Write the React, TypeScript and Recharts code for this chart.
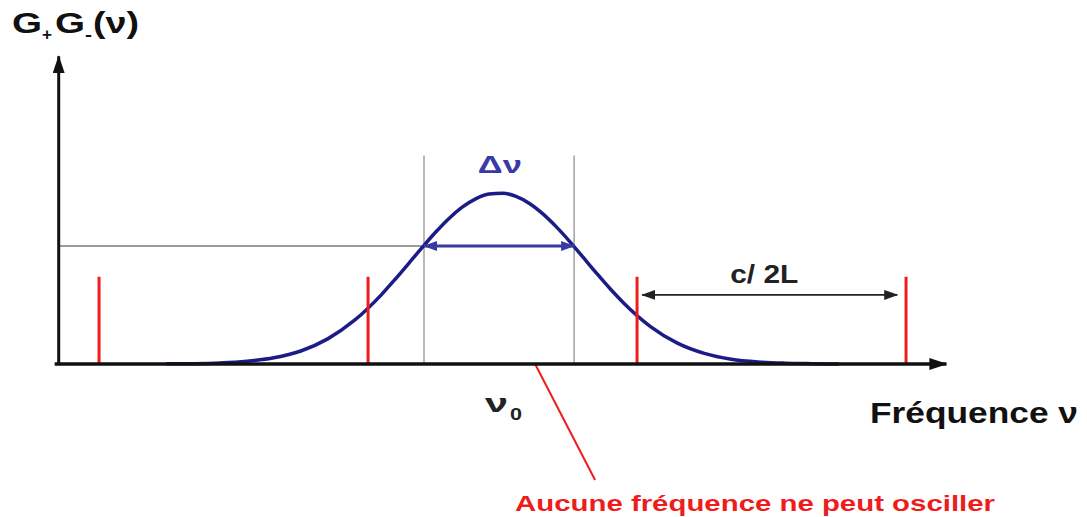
// Gain curve G+G-(ν) of a laser medium with the longitudinal cavity modes
// spaced by c/2L. Frequency axis in arbitrary units where c/2L = 10.

import {
  ComposedChart,
  Line,
  XAxis,
  YAxis,
  ReferenceLine,
  ReferenceDot,
} from 'recharts'

const nu = [
  4, 5, 6, 7, 8, 9, 10, 11, 12, 12.5, 13, 13.5, 14, 14.5, 15, 15.5, 16, 16.5, 17, 17.5, 18,
  18.5, 19, 19.5, 20, 20.5, 21, 22, 23, 24, 25, 26, 27, 28, 29,
]
const gain = [
  0.001, 0.002, 0.006, 0.016, 0.036, 0.076, 0.147, 0.256, 0.406, 0.494, 0.586, 0.679, 0.769,
  0.85, 0.917, 0.966, 0.994, 0.999, 0.98, 0.939, 0.878, 0.802, 0.716, 0.623, 0.53, 0.44,
  0.357, 0.219, 0.122, 0.062, 0.028, 0.012, 0.005, 0.002, 0,
]

// cavity modes (red) and their drawn height
const modes = [1.5, 11.5, 21.5, 31.5]
const modeHeight = 0.51

// width Δν read at the gain level
const bandEdges = [13.58, 19.16]
const bandLevel = 0.69
const bandTop = 1.22

// free spectral range arrow
const fsr = [21.69, 31.17]
const fsrLevel = 0.404

// pointer to the gap between modes
const pointer = [
  { x: 17.71, y: 0 },
  { x: 19.94, y: -0.678 },
]

const X_MAX = 33
const Y_MAX = 1.8

const data = nu.map((v, i) => ({ nu: v, g: gain[i] }))

const FONT = '"Liberation Sans", Arial, sans-serif'
const RED = '#ee1c1c'
const NAVY = '#1c1c86'
const BLUE = '#3a3aa6'

const arrow =
  (color: string, width: number, start?: string, end?: string) => (p: any) => (
    <line
      x1={p.x1}
      y1={p.y1}
      x2={p.x2}
      y2={p.y2}
      stroke={color}
      strokeWidth={width}
      markerStart={start ? `url(#${start})` : undefined}
      markerEnd={end ? `url(#${end})` : undefined}
    />
  )

export default function App() {
  return (
    <div style={{ position: 'absolute', left: 0, top: 0, background: '#fff' }}>
      <ComposedChart
        width={1087}
        height={517}
        data={data}
        margin={{ top: 56.2, right: 140.6, bottom: 153, left: 58.7 }}
      >
        <defs>
          <marker id="axisHead" viewBox="0 0 18 12" markerUnits="userSpaceOnUse" markerWidth={18} markerHeight={12} refX={17} refY={6} orient="auto-start-reverse">
            <path d="M0,0 L18,6 L0,12 z" fill="#111" />
          </marker>
          <marker id="blackHead" viewBox="0 0 14 10" markerUnits="userSpaceOnUse" markerWidth={14} markerHeight={10} refX={13} refY={5} orient="auto-start-reverse">
            <path d="M0,0 L14,5 L0,10 z" fill="#222" />
          </marker>
          <marker id="blueHead" viewBox="0 0 14 10" markerUnits="userSpaceOnUse" markerWidth={14} markerHeight={10} refX={13} refY={5} orient="auto-start-reverse">
            <path d="M0,0 L14,5 L0,10 z" fill={BLUE} />
          </marker>
        </defs>

        <XAxis type="number" dataKey="nu" domain={[0, X_MAX]} hide />
        <YAxis type="number" domain={[0, Y_MAX]} hide />

        {/* Δν construction */}
        {bandEdges.map((x) => (
          <ReferenceLine
            key={x}
            segment={[{ x, y: 0 }, { x, y: bandTop }]}
            stroke="#8a8a8a"
            strokeWidth={1.2}
            ifOverflow="visible"
          />
        ))}
        <ReferenceLine
          segment={[{ x: 0, y: bandLevel }, { x: bandEdges[0], y: bandLevel }]}
          stroke="#7a7a7a"
          strokeWidth={1.6}
          ifOverflow="visible"
        />

        <Line
          type="monotone"
          dataKey="g"
          stroke={NAVY}
          strokeWidth={3.5}
          dot={false}
          activeDot={false}
          isAnimationActive={false}
        />

        <ReferenceLine
          segment={[{ x: bandEdges[0], y: bandLevel }, { x: bandEdges[1], y: bandLevel }]}
          ifOverflow="visible"
          shape={arrow(BLUE, 3, 'blueHead', 'blueHead')}
        />

        {/* cavity modes */}
        {modes.map((x) => (
          <ReferenceLine
            key={x}
            segment={[{ x, y: 0 }, { x, y: modeHeight }]}
            stroke={RED}
            strokeWidth={3}
            ifOverflow="visible"
          />
        ))}

        <ReferenceLine
          segment={[{ x: fsr[0], y: fsrLevel }, { x: fsr[1], y: fsrLevel }]}
          ifOverflow="visible"
          shape={arrow('#222', 1.6, 'blackHead', 'blackHead')}
        />

        <ReferenceLine segment={pointer} stroke={RED} strokeWidth={2} ifOverflow="visible" />

        {/* axes */}
        <ReferenceLine
          segment={[{ x: -0.15, y: 0 }, { x: X_MAX, y: 0 }]}
          ifOverflow="visible"
          shape={arrow('#111', 3.5, undefined, 'axisHead')}
        />
        <ReferenceLine
          segment={[{ x: 0, y: 0 }, { x: 0, y: Y_MAX }]}
          ifOverflow="visible"
          shape={arrow('#111', 3, undefined, 'axisHead')}
        />

        {/* labels tied to the data */}
        <ReferenceDot
          x={16.4}
          y={1.117}
          r={0}
          ifOverflow="visible"
          shape={(p: any) => (
            <text x={p.cx} y={p.cy} textAnchor="middle" fontFamily={FONT} fontWeight="bold" fontSize={23} fill={BLUE} textLength={44} lengthAdjust="spacingAndGlyphs">
              Δν
            </text>
          )}
        />
        <ReferenceDot
          x={26.23}
          y={0.474}
          r={0}
          ifOverflow="visible"
          shape={(p: any) => (
            <text x={p.cx} y={p.cy} textAnchor="middle" fontFamily={FONT} fontWeight="bold" fontSize={25} fill="#222" textLength={68} lengthAdjust="spacingAndGlyphs">
              c/ 2L
            </text>
          )}
        />
        <ReferenceDot
          x={15.85}
          y={-0.281}
          r={0}
          ifOverflow="visible"
          shape={(p: any) => (
            <g fontFamily={FONT} fontWeight="bold" fill="#222">
              <text x={p.cx} y={p.cy} fontSize={26} textLength={23} lengthAdjust="spacingAndGlyphs">ν</text>
              <text x={p.cx + 25} y={p.cy + 8} fontSize={16} textLength={12} lengthAdjust="spacingAndGlyphs">0</text>
            </g>
          )}
        />

        {/* axis titles and note */}
        <g fontFamily={FONT} fontWeight="bold" fill="#111">
          <text x={12} y={33} fontSize={29} textLength={30} lengthAdjust="spacingAndGlyphs">G</text>
          <text x={42} y={40} fontSize={16} textLength={10} lengthAdjust="spacingAndGlyphs">+</text>
          <text x={55} y={33} fontSize={29} textLength={30} lengthAdjust="spacingAndGlyphs">G</text>
          <text x={85} y={40} fontSize={16} textLength={7} lengthAdjust="spacingAndGlyphs">-</text>
          <text x={93} y={33} fontSize={29} textLength={46} lengthAdjust="spacingAndGlyphs">(ν)</text>
          <text x={870} y={423} fontSize={29} textLength={208} lengthAdjust="spacingAndGlyphs">Fréquence ν</text>
        </g>
        <text x={515} y={511} fontFamily={FONT} fontWeight="bold" fontSize={22} fill={RED} textLength={480} lengthAdjust="spacingAndGlyphs">
          Aucune fréquence ne peut osciller
        </text>
      </ComposedChart>
    </div>
  )
}
